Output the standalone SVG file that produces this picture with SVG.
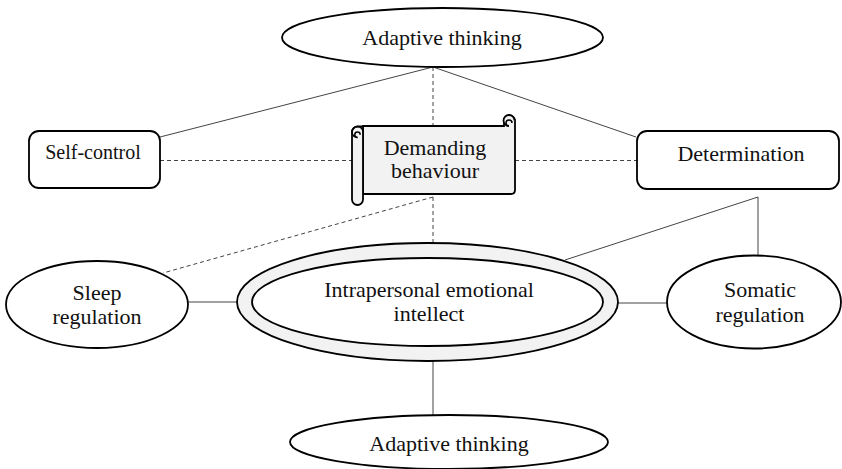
<svg xmlns="http://www.w3.org/2000/svg" width="842" height="469" viewBox="0 0 842 469">
<style>
.shape{fill:#fff;stroke:#000;stroke-width:1.8}
.ring{fill:#f2f2f2;stroke:#000;stroke-width:1.8}
.conn{fill:none;stroke:#444;stroke-width:1}
.dash{stroke-dasharray:4 3}
.t{font-family:'Liberation Serif','Times New Roman',serif;font-size:22px;fill:#111;text-anchor:middle}
</style>
<rect width="842" height="469" fill="#fff"/>
<g id="connectors">
<line class="conn" x1="433" y1="67" x2="160" y2="137"/>
<line class="conn" x1="433" y1="67" x2="636" y2="137"/>
<line class="conn dash" x1="433" y1="67" x2="433" y2="126"/>
<line class="conn dash" x1="160" y1="160.5" x2="352" y2="160.5"/>
<line class="conn dash" x1="515" y1="160.5" x2="637" y2="160.5"/>
<line class="conn dash" x1="433" y1="197" x2="433" y2="243"/>
<line class="conn dash" x1="433" y1="197" x2="163" y2="273"/>
<line class="conn" x1="758" y1="197" x2="758" y2="256"/>
<line class="conn" x1="758" y1="197" x2="565" y2="260"/>
<line class="conn" x1="188" y1="302" x2="237" y2="302"/>
<line class="conn" x1="618" y1="303" x2="667" y2="303"/>
<line class="conn" x1="433" y1="361" x2="433" y2="415"/>
</g>
<g id="adaptive-top">
<ellipse class="shape" cx="442.5" cy="37.5" rx="160.5" ry="29.5"/>
<text class="t" x="442" y="45">Adaptive thinking</text>
</g>
<g id="self-control">
<rect class="shape" x="29" y="131" width="131" height="57" rx="10"/>
<text class="t" x="93" y="159" style="font-size:20px">Self-control</text>
</g>
<g id="determination">
<rect class="shape" x="637" y="131" width="202" height="58" rx="10"/>
<text class="t" x="741" y="161">Determination</text>
</g>
<g id="demanding">
<path class="ring" d="M363,126 H504 V121 A5.5,5.5 0 0 1 515,121 V190 Q515,194 511,194 H363 Z"/>
<path class="ring" d="M509,126 A5.5,5.5 0 1 1 514.5,120.5" fill="none"/>
<path d="M509,126 A3,3 0 1 1 512,123" fill="none" stroke="#000" stroke-width="1.5"/>
<path class="ring" d="M352,132 A5.5,5.5 0 0 1 357.5,126.5 H363 V199.5 A5.5,5.5 0 0 1 352,199.5 Z"/>
<path d="M357.5,137.5 A5.5,5.5 0 1 1 363,132" fill="none" stroke="#000" stroke-width="1.5"/>
<path d="M357.5,137.5 A2.7,2.7 0 1 1 360.2,134.8" fill="none" stroke="#000" stroke-width="1.5"/>
<text class="t" x="435" y="155">Demanding</text>
<text class="t" x="435" y="178">behaviour</text>
</g>
<g id="sleep">
<ellipse class="shape" cx="97" cy="304.5" rx="91" ry="43.5"/>
<text class="t" x="97" y="300">Sleep</text>
<text class="t" x="97" y="324">regulation</text>
</g>
<g id="intrapersonal">
<ellipse class="ring" cx="427.5" cy="302" rx="190.5" ry="59"/>
<ellipse class="shape" cx="427.5" cy="302" rx="175.5" ry="44"/>
<text class="t" x="429" y="297">Intrapersonal emotional</text>
<text class="t" x="429" y="321">intellect</text>
</g>
<g id="somatic">
<ellipse class="shape" cx="754" cy="302" rx="87" ry="46.5"/>
<text class="t" x="760" y="297">Somatic</text>
<text class="t" x="760" y="322">regulation</text>
</g>
<g id="adaptive-bottom">
<ellipse class="shape" cx="449" cy="442" rx="159" ry="27"/>
<text class="t" x="449" y="451">Adaptive thinking</text>
</g>
</svg>
